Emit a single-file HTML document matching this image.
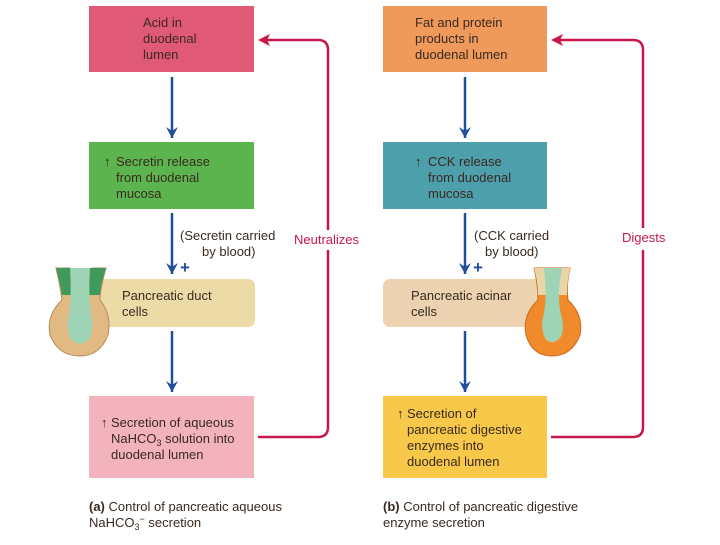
<!DOCTYPE html>
<html><head><meta charset="utf-8"><style>
html,body{margin:0;padding:0;background:#fff;}
svg text{font-family:"Liberation Sans",sans-serif;font-size:13px;fill:#3a2a20;}
</style></head><body>
<svg width="720" height="540" viewBox="0 0 720 540" xmlns="http://www.w3.org/2000/svg">
<!-- LEFT -->
<rect x="89" y="6" width="165" height="66" fill="#e05a78"/>
<text x="143" y="27">Acid in</text><text x="143" y="43">duodenal</text><text x="143" y="59">lumen</text>
<line x1="172" y1="77" x2="172" y2="138" stroke="#1f4e9a" stroke-width="2.5"/>
<path d="M166,127 L172,138 L178,127 L172,131Z" fill="#1f4e9a"/>
<rect x="89" y="142" width="165" height="67" fill="#5cb44f"/>
<text x="104" y="166">↑</text>
<text x="116" y="166">Secretin release</text><text x="116" y="182">from duodenal</text><text x="116" y="198">mucosa</text>
<line x1="172" y1="213" x2="172" y2="274" stroke="#1f4e9a" stroke-width="2.5"/>
<path d="M166,263 L172,274 L178,263 L172,267Z" fill="#1f4e9a"/>
<text x="180" y="240">(Secretin carried</text><text x="202" y="256">by blood)</text>
<text x="180" y="273" style="font-size:17px;font-weight:bold;fill:#1f4e9a">+</text>
<rect x="92" y="279" width="163" height="48" rx="7" fill="#ecdba6"/>
<text x="122" y="300">Pancreatic duct</text><text x="122" y="316">cells</text>
<!-- left illustration -->
<path d="M56,268 L70,268 L74,300 L88,300 L92,268 L106,268 Q100,290 100,300 Q112,315 108,335 Q100,356 80,356 Q58,356 50,335 Q46,315 62,300 Q60,285 56,268 Z" fill="#e0b983" stroke="#b88a55"/>
<path d="M56,268 L106,268 Q101,282 100,295 L62,295 Q60,282 56,268 Z" fill="#3f9a5b"/>
<path d="M70,268 Q72,300 68,320 Q66,342 80,344 Q94,342 92,320 Q88,300 90,268 Z" fill="#9fd3b5"/>
<line x1="172" y1="331" x2="172" y2="392" stroke="#1f4e9a" stroke-width="2.5"/>
<path d="M166,381 L172,392 L178,381 L172,385Z" fill="#1f4e9a"/>
<rect x="89" y="396" width="165" height="82" fill="#f2b3bd"/>
<text x="101" y="427">↑</text>
<text x="111" y="427">Secretion of aqueous</text>
<text x="111" y="443">NaHCO<tspan dy="3" style="font-size:9px">3</tspan><tspan dy="-3"> solution into</tspan></text>
<text x="111" y="459">duodenal lumen</text>
<path d="M258,437 L318,437 Q328,437 328,427 L328,250" fill="none" stroke="#c8184a" stroke-width="2.5"/>
<path d="M328,230 L328,50 Q328,40 318,40 L262,40" fill="none" stroke="#c8184a" stroke-width="2.5"/>
<path d="M258,40 L270,34 L267,40 L270,46Z" fill="#c8184a"/>
<text x="294" y="244" style="fill:#c8184a">Neutralizes</text>
<text x="89" y="511"><tspan style="font-weight:bold">(a)</tspan>  Control of pancreatic aqueous</text>
<text x="89" y="527">NaHCO<tspan dy="3" style="font-size:9px">3</tspan><tspan dy="-8" style="font-size:9px">−</tspan><tspan dy="5"> secretion</tspan></text>
<!-- RIGHT -->
<rect x="383" y="6" width="164" height="66" fill="#ef9a5a"/>
<text x="415" y="27">Fat and protein</text><text x="415" y="43">products in</text><text x="415" y="59">duodenal lumen</text>
<line x1="465" y1="77" x2="465" y2="138" stroke="#1f4e9a" stroke-width="2.5"/>
<path d="M459,127 L465,138 L471,127 L465,131Z" fill="#1f4e9a"/>
<rect x="383" y="142" width="164" height="67" fill="#4d9fab"/>
<text x="415" y="166">↑</text>
<text x="428" y="166">CCK release</text><text x="428" y="182">from duodenal</text><text x="428" y="198">mucosa</text>
<line x1="465" y1="213" x2="465" y2="274" stroke="#1f4e9a" stroke-width="2.5"/>
<path d="M459,263 L465,274 L471,263 L465,267Z" fill="#1f4e9a"/>
<text x="474" y="240">(CCK carried</text><text x="485" y="256">by blood)</text>
<text x="473" y="273" style="font-size:17px;font-weight:bold;fill:#1f4e9a">+</text>
<rect x="383" y="279" width="160" height="48" rx="7" fill="#ecd2b0"/>
<text x="411" y="300">Pancreatic acinar</text><text x="411" y="316">cells</text>
<!-- right illustration -->
<path d="M534,268 L570,268 Q566,285 568,300 Q584,315 580,335 Q572,356 552,356 Q532,356 526,335 Q522,315 538,300 Q538,285 534,268 Z" fill="#f08a2a" stroke="#c86a18"/>
<path d="M534,268 L570,268 Q567,282 567,295 L538,295 Q538,282 534,268 Z" fill="#e8d6a8"/>
<path d="M544,268 Q548,300 542,322 Q542,344 554,342 Q566,338 562,318 Q556,298 562,268 Z" fill="#9fd3b5"/>
<line x1="465" y1="331" x2="465" y2="392" stroke="#1f4e9a" stroke-width="2.5"/>
<path d="M459,381 L465,392 L471,381 L465,385Z" fill="#1f4e9a"/>
<rect x="383" y="396" width="164" height="82" fill="#f7c84a"/>
<text x="397" y="418">↑</text>
<text x="407" y="418">Secretion of</text><text x="407" y="434">pancreatic digestive</text><text x="407" y="450">enzymes into</text><text x="407" y="466">duodenal lumen</text>
<path d="M551,437 L633,437 Q643,437 643,427 L643,250" fill="none" stroke="#c8184a" stroke-width="2.5"/>
<path d="M643,228 L643,50 Q643,40 633,40 L555,40" fill="none" stroke="#c8184a" stroke-width="2.5"/>
<path d="M551,40 L563,34 L560,40 L563,46Z" fill="#c8184a"/>
<text x="622" y="242" style="fill:#c8184a">Digests</text>
<text x="383" y="511"><tspan style="font-weight:bold">(b)</tspan>  Control of pancreatic digestive</text>
<text x="383" y="527">enzyme secretion</text>
</svg>
</body></html>
